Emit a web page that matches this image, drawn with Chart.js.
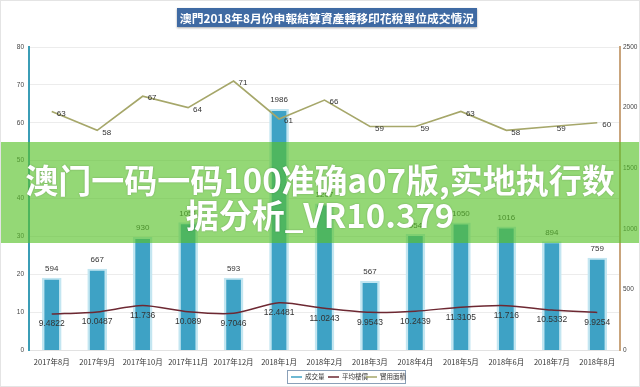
<!DOCTYPE html>
<html><head><meta charset="utf-8">
<script src="https://cdn.jsdelivr.net/npm/chart.js@4"></script>
<style>
html,body{margin:0;padding:0;background:#fff;}
#wrap{position:relative;width:640px;height:387px;overflow:hidden;background:#fff;}
#c{position:absolute;left:0;top:0;}
#title{position:absolute;left:0;top:8px;width:654px;text-align:center;}
#title span{display:inline-block;background:#3f6aa3;color:#fff;font-family:"Noto Sans CJK TC","Noto Sans CJK SC",sans-serif;font-weight:bold;font-size:11.8px;line-height:19px;padding:0 3px;box-shadow:0 1px 2px rgba(0,0,0,0.35);}
#band{position:absolute;left:0;top:142px;width:640px;height:101px;background:rgba(88,194,40,0.64);}
#ov{position:absolute;left:0;top:162px;width:640px;text-align:center;color:#fff;font-family:"Noto Sans CJK SC",sans-serif;font-weight:bold;font-size:33px;line-height:35px;text-shadow:0 0 2px rgba(0,0,0,0.25);}
#frame{position:absolute;left:0;top:0;width:638px;height:385px;border:1px solid #e4e4e4;pointer-events:none;}
</style></head>
<body>
<div id="wrap">
<canvas id="c" width="640" height="387"></canvas>
<div id="title"><span>澳門2018年8月份申報結算資產轉移印花稅單位成交情況</span></div>
<div id="band"></div>
<div id="ov">澳门一码一码100准确a07版,实地执行数<br>据分析_VR10.379</div>
<div id="frame"></div>
</div>
<script>
const categories = ["2017年8月","2017年9月","2017年10月","2017年11月","2017年12月","2018年1月","2018年2月","2018年3月","2018年4月","2018年5月","2018年6月","2018年7月","2018年8月"];
const volume = [594, 667, 930, 1051, 593, 1986, 1207, 567, 954, 1050, 1016, 894, 759];
const avgPrice = [9.4822, 10.0487, 11.736, 10.089, 9.7046, 12.4481, 11.0243, 9.9543, 10.2439, 11.3105, 11.716, 10.5332, 9.9254];
const usableArea = [63, 58, 67, 64, 71, 61, 66, 59, 59, 63, 58, 59, 60];
const priceLabels = ["9.4822","10.0487","11.736","10.089","9.7046","12.4481","11.0243","9.9543","10.2439","11.3105","11.716","10.5332","9.9254"];
const seriesNames = ["成交量","平均樓價","實用面積"];
const leftTicks = [0,10,20,30,40,50,60,70,80];
const rightTicks = [0,500,1000,1500,2000,2500];

const BAR = "#3ea2c5", BAR_EDGE = "#c3e6f1", PRICE = "#6d2832", AREA = "#a6a76a";
const FONT = '"Noto Sans CJK SC","DejaVu Sans",sans-serif';

const labelPlugin = {
  id: 'labels',
  afterDatasetsDraw(chart) {
    const ctx = chart.ctx;
    ctx.save();
    ctx.fillStyle = '#333';
    ctx.font = '8px "Liberation Sans", Arial, sans-serif';
    const mb = chart.getDatasetMeta(0);
    mb.data.forEach((el, i) => {
      ctx.textAlign = 'center'; ctx.textBaseline = 'middle';
      ctx.fillText(String(volume[i]), el.x, el.y - 9);
    });
    const mp = chart.getDatasetMeta(1);
    ctx.font = '8.5px "Liberation Sans", Arial, sans-serif';
    mp.data.forEach((el, i) => {
      ctx.textAlign = 'center'; ctx.textBaseline = 'middle';
      ctx.fillText(priceLabels[i], el.x, el.y + 10);
    });
    const ma = chart.getDatasetMeta(2);
    ctx.font = '8px "Liberation Sans", Arial, sans-serif';
    ma.data.forEach((el, i) => {
      ctx.textAlign = 'left'; ctx.textBaseline = 'middle';
      ctx.fillText(String(usableArea[i]), el.x + 5, el.y + 2);
    });
    ctx.restore();
  },
  afterDraw(chart) {
    const ctx = chart.ctx;
    ctx.save();
    const bx = 287, by = 370, bw = 118, bh = 13;
    ctx.strokeStyle = '#8aa0b8'; ctx.lineWidth = 1;
    ctx.strokeRect(bx + 0.5, by + 0.5, bw, bh);
    const cols = [BAR, PRICE, AREA];
    const xs = [291, 328, 366];
    ctx.font = '6.5px ' + FONT;
    ctx.textBaseline = 'middle'; ctx.textAlign = 'left';
    for (let i = 0; i < 3; i++) {
      ctx.strokeStyle = cols[i]; ctx.lineWidth = 1.5;
      ctx.beginPath(); ctx.moveTo(xs[i], by + 7); ctx.lineTo(xs[i] + 11, by + 7); ctx.stroke();
      ctx.fillStyle = '#333';
      ctx.fillText(seriesNames[i], xs[i] + 14, by + 7);
    }
    ctx.restore();
  }
};

new Chart(document.getElementById('c'), {
  data: {
    labels: categories,
    datasets: [
      { type: 'bar', label: seriesNames[0], data: volume, yAxisID: 'y1', backgroundColor: BAR,
        borderColor: BAR_EDGE, borderWidth: {left: 2.5, right: 2.5, top: 2, bottom: 0}, borderSkipped: false, barThickness: 19, order: 3 },
      { type: 'line', label: seriesNames[1], data: avgPrice, yAxisID: 'y', borderColor: PRICE, borderWidth: 1.5,
        pointRadius: 0, tension: 0.25, order: 1 },
      { type: 'line', label: seriesNames[2], data: usableArea, yAxisID: 'y', borderColor: AREA, borderWidth: 1.6,
        pointRadius: 0, tension: 0, order: 2 }
    ]
  },
  options: {
    responsive: false, animation: false,
    layout: { padding: { top: 47, bottom: 17, left: 0, right: 0 } },
    plugins: { legend: { display: false }, tooltip: { enabled: false }, title: { display: false } },
    scales: {
      x: {
        grid: { display: false }, border: { display: true, color: '#e2e2e2' },
        ticks: { font: { family: FONT, size: 7.5 }, color: '#333', maxRotation: 0, autoSkip: false, padding: 0 },
        afterFit(s) { s.height = 20; }
      },
      y: {
        position: 'left', min: 0, max: 80,
        afterBuildTicks(s) { s.ticks = leftTicks.map(v => ({ value: v })); },
        grid: { color: '#ececec', drawTicks: false },
        border: { color: '#3b9db6', width: 2 },
        ticks: { font: { size: 6.5, family: '"Liberation Sans", Arial' }, color: '#444', padding: 5, callback: v => String(v) },
        afterFit(s) { s.width = 29; }
      },
      y1: {
        position: 'right', min: 0, max: 2500,
        afterBuildTicks(s) { s.ticks = rightTicks.map(v => ({ value: v })); },
        grid: { display: false, drawTicks: false },
        border: { color: '#c9a47c', width: 2 },
        ticks: { font: { size: 6.5, family: '"Liberation Sans", Arial' }, color: '#444', padding: 3, callback: v => String(v) },
        afterFit(s) { s.width = 20; }
      }
    }
  },
  plugins: [labelPlugin]
});
</script>
</body></html>
